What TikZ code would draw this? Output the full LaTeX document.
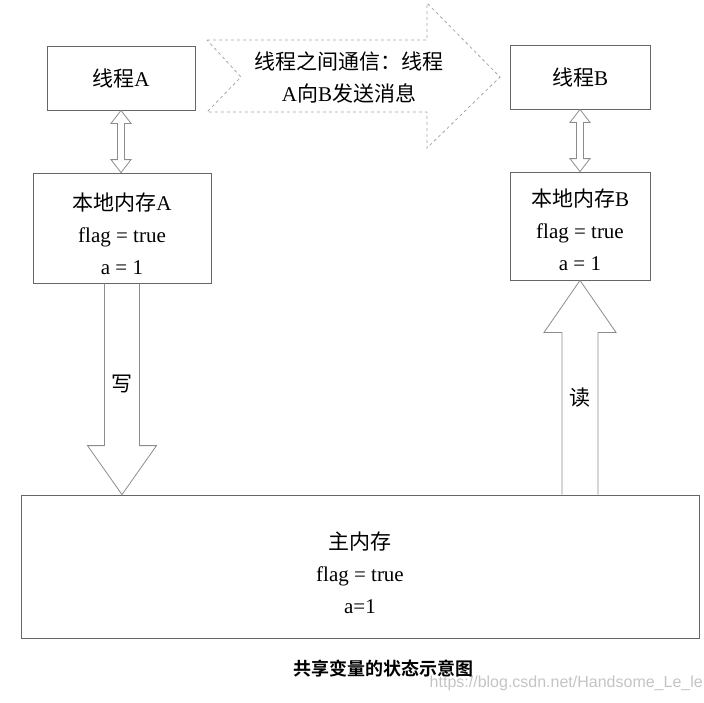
\documentclass[tikz,border=0pt]{standalone}
\usepackage{fontspec}
\setmainfont{Liberation Serif}
\newfontfamily\cjk{Noto Sans CJK SC}
\newfontfamily\cjkbold{Noto Sans CJK SC Bold}
\newfontfamily\wmfont{Liberation Sans}
\newcommand{\zh}[1]{{\cjk #1}}
\usetikzlibrary{calc}
\definecolor{boxgray}{HTML}{666666}
\definecolor{arrgray}{HTML}{8C8C8C}
\definecolor{dashgray}{HTML}{A6A6A6}
\definecolor{wmgray}{HTML}{C4C4C4}

% vertical block arrow: #1 tail, #2 tip, #3 half shaft, #4 half head, #5 head length
\newcommand{\fatarrow}[5]{%
  \draw[fatline] let \p1=(#1), \p2=(#2), \n1={sign(\y2-\y1)} in
    (\x1-#3pt,\y1) -- (\x1-#3pt,\y2-\n1*#5pt) -- (\x1-#4pt,\y2-\n1*#5pt) -- (\x1,\y2)
    -- (\x1+#4pt,\y2-\n1*#5pt) -- (\x1+#3pt,\y2-\n1*#5pt) -- (\x1+#3pt,\y1);}
% vertical two-headed arrow: #1 top, #2 bottom, #3 half shaft, #4 half head, #5 head length
\newcommand{\twinarrow}[5]{%
  \draw[fatline] let \p1=(#1), \p2=(#2) in
    (\x1,\y1) -- (\x1+#4pt,\y1-#5pt) -- (\x1+#3pt,\y1-#5pt) -- (\x1+#3pt,\y2+#5pt)
    -- (\x1+#4pt,\y2+#5pt) -- (\x1,\y2) -- (\x1-#4pt,\y2+#5pt) -- (\x1-#3pt,\y2+#5pt)
    -- (\x1-#3pt,\y1-#5pt) -- (\x1-#4pt,\y1-#5pt) -- cycle;}

\begin{document}
\begin{tikzpicture}[x=1pt,y=-1pt,
  every node/.style={font=\fontsize{21}{32}\selectfont,align=center,inner sep=0pt},
  box/.style={draw=boxgray,line width=0.8pt},
  fatline/.style={draw=arrgray,line width=0.8pt,line join=miter}]
  \useasboundingbox (0,0) rectangle (704,702);

  % threads and their local memories
  \node[box,minimum width=148,minimum height=64] (thA) at (121,78) {\zh{线程}A};
  \node[box,minimum width=178,minimum height=110] (memA) at (122,228) {};
  \node at ([yshift=-6pt]memA.center) {\zh{本地内存}A\\flag = true\\a = 1};
  \node[box,minimum width=140,minimum height=64] (thB) at (580,77) {\zh{线程}B};
  \node[box,minimum width=140,minimum height=108] (memB) at (580,226) {};
  \node at ([yshift=-4pt]memB.center) {\zh{本地内存}B\\flag = true\\a = 1};

  % main memory
  \node[box,minimum width=678,minimum height=143] (main) at (360,566.5) {};
  \node at ([yshift=-6pt]main.center) {\zh{主内存}\\flag = true\\a=1};

  % message from thread A to thread B
  \node (msg) at (349,77) {\zh{线程之间通信：线程}\\A\zh{向}B\zh{发送消息}};
  \draw[dashgray,dashed,line width=0.8pt] (207,40) -- (427,40) -- (427,3) -- (500,77)
    -- (427,148) -- (427,112) -- (207,112) -- (241,77) -- cycle;

  % connectors
  \twinarrow{thA.south}{memA.north}{3.5}{10}{13}
  \twinarrow{thB.south}{memB.north}{3.5}{10}{13}
  \fatarrow{memA.south}{main.north -| memA.south}{17.5}{34.5}{49}
  \fatarrow{main.north -| memB.south}{memB.south}{18}{36}{52}
  \node (wr) at (122,384) {\zh{写}};
  \node (rd) at (580,398) {\zh{读}};

  % caption
  \node (cap) at (383,669) {\cjkbold\fontsize{18}{20}\selectfont 共享变量的状态示意图};
  \node[anchor=east,text=wmgray] (wm) at (703,683) {\wmfont\fontsize{16}{18}\selectfont https://blog.csdn.net/Handsome\_Le\_le};
\end{tikzpicture}
\end{document}
